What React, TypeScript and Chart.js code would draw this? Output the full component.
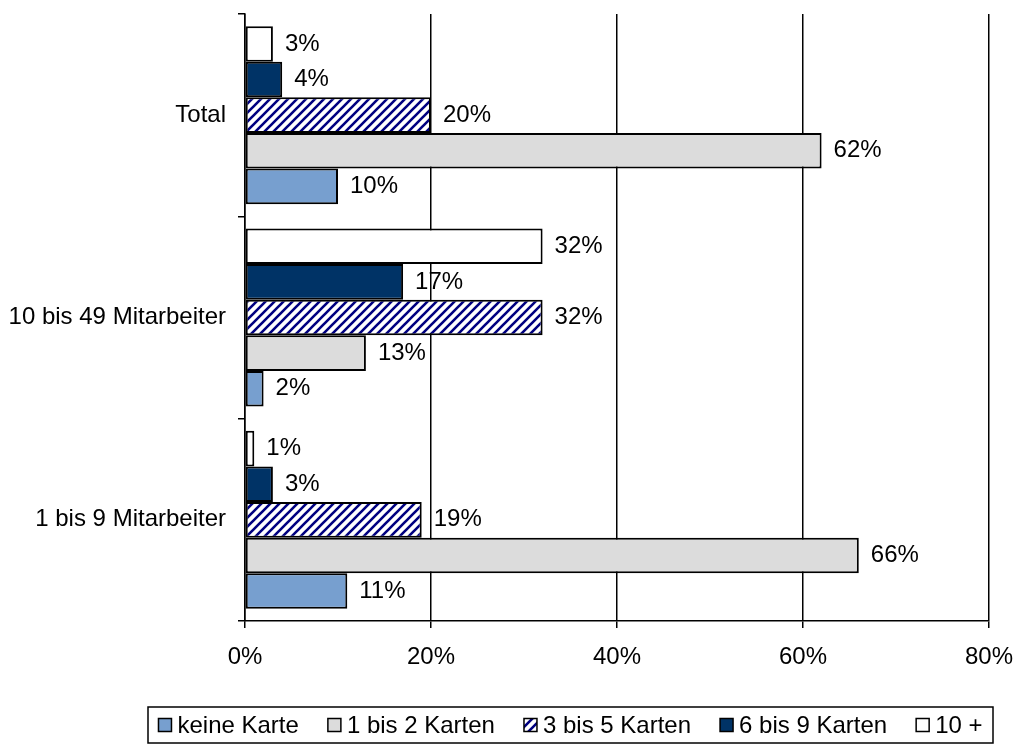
import React, { useEffect, useRef } from 'react';
import { Chart, registerables } from 'chart.js';

Chart.register(...registerables);

// ---- data ----
const categories = ['Total', '10 bis 49 Mitarbeiter', '1 bis 9 Mitarbeiter'];
const legendNames = ['keine Karte', '1 bis 2 Karten', '3 bis 5 Karten', '6 bis 9 Karten', '10 +'];
const keineKarte = [10, 2, 11];
const karten1bis2 = [62, 13, 66];
const karten3bis5 = [20, 32, 19];
const karten6bis9 = [4, 17, 3];
const karten10plus = [3, 32, 1];
const xTickValues = [0, 20, 40, 60, 80];

const FONT = '"Liberation Sans", Arial, sans-serif';
const FONT_SIZE = 24;

function makeHatch(): CanvasPattern | string {
  const size = 9;
  const c = document.createElement('canvas');
  c.width = size;
  c.height = size;
  const ctx = c.getContext('2d');
  if (!ctx) return '#000080';
  ctx.fillStyle = '#ffffff';
  ctx.fillRect(0, 0, size, size);
  ctx.strokeStyle = '#000080';
  ctx.lineWidth = 2.6;
  ctx.beginPath();
  ctx.moveTo(-size, size * 2);
  ctx.lineTo(size * 2, -size);
  ctx.moveTo(-size, size);
  ctx.lineTo(size, -size);
  ctx.moveTo(0, size * 2);
  ctx.lineTo(size * 2, 0);
  ctx.stroke();
  const p = ctx.createPattern(c, 'repeat');
  return p || '#000080';
}

export default function App() {
  const ref = useRef<HTMLCanvasElement | null>(null);

  useEffect(() => {
    document.body.style.margin = '0';
    const canvas = ref.current;
    if (!canvas) return;
    const hatch = makeHatch();

    const colors: Record<string, any> = {
      'keine Karte': '#779fcf',
      '1 bis 2 Karten': '#dcdcdc',
      '3 bis 5 Karten': hatch,
      '6 bis 9 Karten': '#003366',
      '10 +': '#ffffff',
    };

    // datasets top-to-bottom within each category
    const ordered: [string, number[]][] = [
      ['10 +', karten10plus],
      ['6 bis 9 Karten', karten6bis9],
      ['3 bis 5 Karten', karten3bis5],
      ['1 bis 2 Karten', karten1bis2],
      ['keine Karte', keineKarte],
    ];

    const labelPlugin = {
      id: 'valueLabels',
      afterDatasetsDraw(chart: any) {
        const ctx = chart.ctx;
        ctx.save();
        ctx.font = `${FONT_SIZE}px ${FONT}`;
        ctx.fillStyle = '#000';
        ctx.textAlign = 'left';
        ctx.textBaseline = 'middle';
        chart.data.datasets.forEach((ds: any, i: number) => {
          const meta = chart.getDatasetMeta(i);
          meta.data.forEach((bar: any, j: number) => {
            ctx.fillText(`${ds.data[j]}%`, bar.x + 12, bar.y);
          });
        });
        ctx.restore();
      },
    };

    const legendPlugin = {
      id: 'boxLegend',
      afterDraw(chart: any) {
        const ctx = chart.ctx;
        ctx.save();
        ctx.font = `${FONT_SIZE}px ${FONT}`;
        const box = 13;
        const gapMarker = 6;
        const gapItem = 29;
        const widths = legendNames.map((n) => ctx.measureText(n).width);
        const total = widths.reduce((a, w) => a + w + box + gapMarker, 0) + gapItem * (legendNames.length - 1);
        const boxLeft = 148;
        const boxRight = 993;
        const top = 707;
        const bottom = 743;
        ctx.strokeStyle = '#000';
        ctx.lineWidth = 1.5;
        ctx.strokeRect(boxLeft, top, boxRight - boxLeft, bottom - top);
        let x = (boxLeft + boxRight) / 2 - total / 2;
        const cy = (top + bottom) / 2;
        legendNames.forEach((n, i) => {
          ctx.fillStyle = colors[n];
          ctx.fillRect(x, cy - box / 2, box, box);
          ctx.lineWidth = 1.5;
          ctx.strokeStyle = '#000';
          ctx.strokeRect(x, cy - box / 2, box, box);
          ctx.fillStyle = '#000';
          ctx.textAlign = 'left';
          ctx.textBaseline = 'middle';
          ctx.fillText(n, x + box + gapMarker, cy + 1);
          x += box + gapMarker + widths[i] + gapItem;
        });
        ctx.restore();
      },
    };

    const chart = new Chart(canvas, {
      type: 'bar',
      data: {
        labels: categories,
        datasets: ordered.map(([name, values]) => ({
          label: name,
          data: values,
          backgroundColor: colors[name],
          borderColor: '#000',
          borderWidth: 2,
          borderSkipped: false,
          categoryPercentage: 0.88,
          barPercentage: 1,
        })),
      },
      options: {
        indexAxis: 'y',
        animation: false,
        responsive: false,
        maintainAspectRatio: false,
        layout: { padding: { left: 0, right: 26, top: 14, bottom: 73 } },
        plugins: {
          legend: { display: false },
          tooltip: { enabled: false },
        },
        scales: {
          x: {
            min: 0,
            max: 80,
            afterBuildTicks: (scale: any) => {
              scale.ticks = xTickValues.map((v) => ({ value: v }));
            },
            afterFit: (scale: any) => {
              scale.height = 50;
              scale.paddingLeft = 0;
              scale.paddingRight = 0;
            },
            ticks: {
              color: '#000',
              font: { family: FONT, size: FONT_SIZE },
              padding: 15,
              maxRotation: 0,
              callback: (v: any) => `${v}%`,
            },
            grid: { color: '#000', lineWidth: 1.5, tickLength: 7, drawTicks: true },
            border: { color: '#000', width: 1.5 },
          },
          y: {
            afterFit: (scale: any) => {
              scale.width = 245;
              scale.paddingTop = 0;
              scale.paddingBottom = 0;
            },
            ticks: {
              color: '#000',
              font: { family: FONT, size: FONT_SIZE },
              padding: 12,
            },
            grid: { offset: true, drawOnChartArea: false, color: '#000', lineWidth: 1.5, tickLength: 7 },
            border: { color: '#000', width: 1.5 },
          },
        },
      },
      plugins: [labelPlugin, legendPlugin],
    });
    return () => chart.destroy();
  }, []);

  return (
    <div style={{ width: 1015, height: 744, background: '#fff' }}>
      <canvas ref={ref} width={1015} height={744} style={{ display: 'block' }} />
    </div>
  );
}
